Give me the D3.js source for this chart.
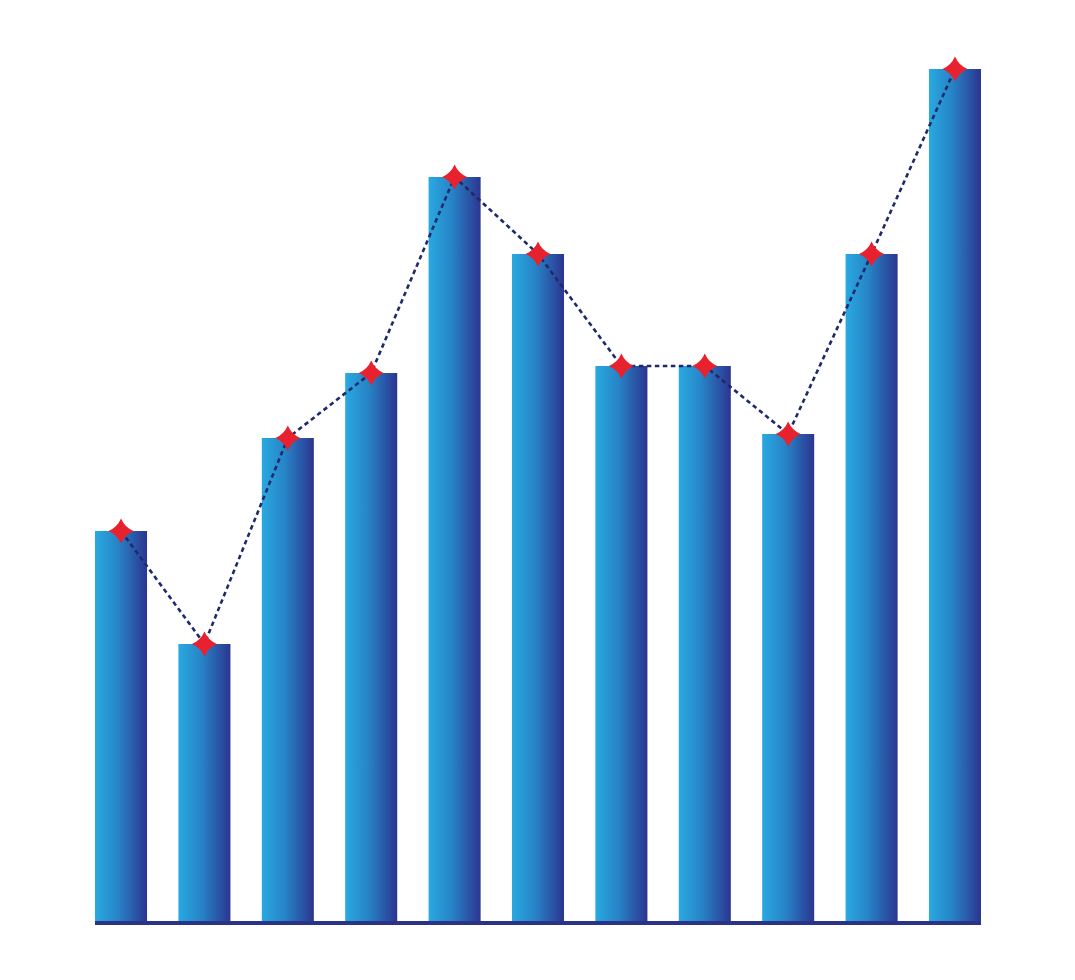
<!DOCTYPE html>
<html>
<head>
<meta charset="utf-8">
<script src="https://cdn.jsdelivr.net/npm/d3@7"></script>
<style>
  html, body { margin: 0; padding: 0; background: #ffffff; }
  svg { display: block; }
</style>
</head>
<body>
<svg id="chart" width="1075" height="980"></svg>
<script>
const categories = ["1", "2", "3", "4", "5", "6", "7", "8", "9", "10", "11"];
const values = [390, 277, 483, 548, 744, 667, 555, 555, 487, 667, 852];

const svg = d3.select("#chart");
const baseY = 921;

const x = d3.scaleBand()
  .domain(categories)
  .range([95, 981])
  .paddingInner(0.376)
  .paddingOuter(0);

const y = d3.scaleLinear()
  .domain([0, 900])
  .range([baseY, baseY - 900]);

const defs = svg.append("defs");
const grad = defs.append("linearGradient")
  .attr("id", "barGrad")
  .attr("x1", "0%").attr("x2", "100%")
  .attr("y1", "0%").attr("y2", "0%");
grad.append("stop").attr("offset", "0%").attr("stop-color", "#29a9e1");
grad.append("stop").attr("offset", "45%").attr("stop-color", "#2783c6");
grad.append("stop").attr("offset", "100%").attr("stop-color", "#2c3590");

// bars
svg.append("g")
  .selectAll("rect")
  .data(values)
  .join("rect")
  .attr("x", (d, i) => x(categories[i]))
  .attr("y", d => y(d))
  .attr("width", x.bandwidth())
  .attr("height", d => y(0) - y(d))
  .attr("fill", "url(#barGrad)");

// baseline
svg.append("rect")
  .attr("x", 95)
  .attr("y", baseY)
  .attr("width", 981 - 95)
  .attr("height", 4)
  .attr("fill", "#2b3388");

// dashed line
const line = d3.line()
  .x((d, i) => x(categories[i]) + x.bandwidth() / 2)
  .y(d => y(d));

svg.append("path")
  .datum(values)
  .attr("d", line)
  .attr("fill", "none")
  .attr("stroke", "#1e2a6b")
  .attr("stroke-width", 2.6)
  .attr("stroke-dasharray", "4.5,3.5");

// stars
function starPath(r) {
  const c = r * 0.3;
  const p = d3.path();
  p.moveTo(0, -r);
  p.quadraticCurveTo(c, -c, r, 0);
  p.quadraticCurveTo(c, c, 0, r);
  p.quadraticCurveTo(-c, c, -r, 0);
  p.quadraticCurveTo(-c, -c, 0, -r);
  p.closePath();
  return p.toString();
}

svg.append("g")
  .selectAll("path")
  .data(values)
  .join("path")
  .attr("d", starPath(12.5))
  .attr("transform", (d, i) => `translate(${x(categories[i]) + x.bandwidth() / 2},${y(d)})`)
  .attr("fill", "#e8212e");
</script>
</body>
</html>
